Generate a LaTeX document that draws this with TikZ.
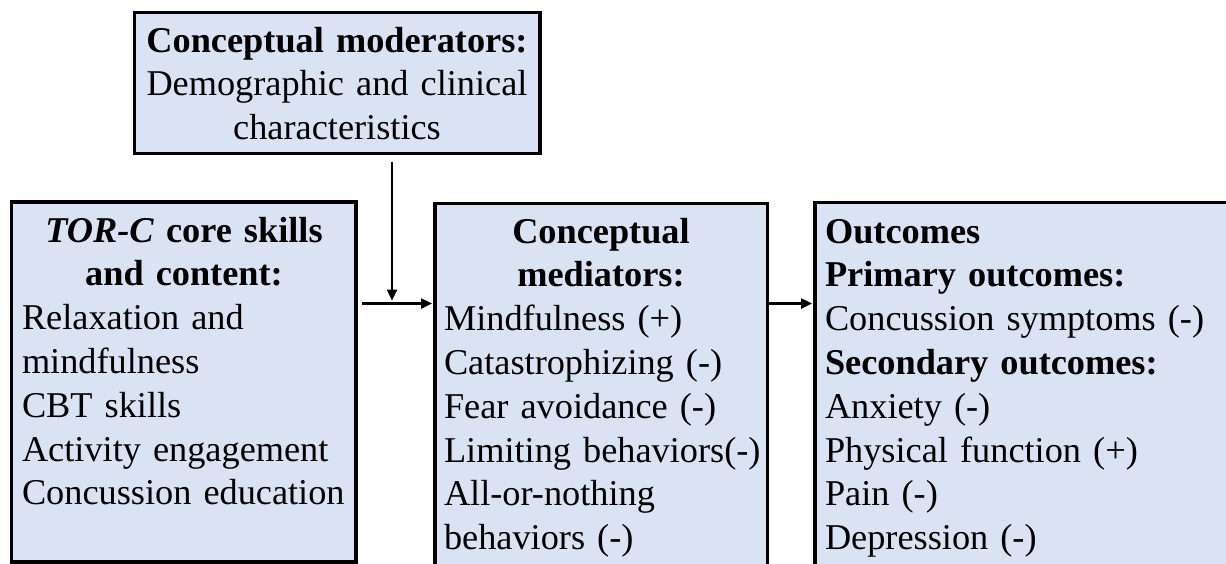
\documentclass[tikz,border=0pt]{standalone}
\usepackage{fontspec}
\setmainfont{Liberation Serif}
\usetikzlibrary{arrows.meta,calc}
\definecolor{boxfill}{HTML}{DAE3F3}
\tikzset{
  box/.style={draw=black, fill=boxfill, line width=3.5pt, inner sep=0pt, outer sep=0pt, anchor=north west},
  txt/.style={inner sep=0pt, outer sep=0pt, font=\fontsize{36.3}{43.8}\selectfont},
  arr/.style={line width=2.4pt, -{Triangle[length=11pt,width=10pt]}}
}
\begin{document}
\begin{tikzpicture}[x=1pt,y=-1pt]
\useasboundingbox (0,0) rectangle (1226,563);
\clip (0,0) rectangle (1226,563);
% boxes
\node[box, minimum width=405.5pt, minimum height=141pt] (mod) at (134.5,12.5) {};
\node[box, minimum width=344.5pt, minimum height=360pt] (core) at (11.5,202) {};
\node[box, minimum width=332.5pt, minimum height=400pt] (med) at (435,203.5) {};
\node[box, minimum width=430pt, minimum height=400pt] (out) at (815,202.5) {};
% texts
\node[txt, anchor=base, text width=400pt] (modtxt) at (337,52)
  {\centering\textbf{Conceptual moderators:}\\Demographic and clinical\\characteristics\par};
\node[txt, anchor=base west, text width=324pt] (coretxt) at (22,242)
  {\centering\textbf{\textit{TOR-C} core skills}\\\textbf{and content:}\par
   \raggedright Relaxation and\\mindfulness\\CBT skills\\Activity engagement\\Concussion education\par};
\node[txt, anchor=base west, text width=314pt] (medtxt) at (444,243)
  {\centering\textbf{Conceptual}\\\textbf{mediators:}\par
   \raggedright Mindfulness (+)\\Catastrophizing (-)\\Fear avoidance (-)\\\mbox{Limiting behaviors(-)}\\All-or-nothing\\behaviors (-)\par};
\node[txt, anchor=base west, text width=400pt] (outtxt) at (825,243)
  {\raggedright\textbf{Outcomes}\\\textbf{Primary outcomes:}\\Concussion symptoms (-)\\\textbf{Secondary outcomes:}\\Anxiety (-)\\Physical function (+)\\Pain (-)\\Depression (-)\par};
% connectors
\coordinate (j) at (392,303.5);
\draw[arr] ($(j |- mod.south)+(0,8)$) -- ($(j)+(0,-3)$);
\draw[arr] ($(j -| core.east)+(6,0)$) -- ($(j -| med.west)+(-3,0)$);
\draw[arr] ($(med.east |- j)+(1.5,0)$) -- ($(out.west |- j)+(-3,0)$);
\end{tikzpicture}
\end{document}
